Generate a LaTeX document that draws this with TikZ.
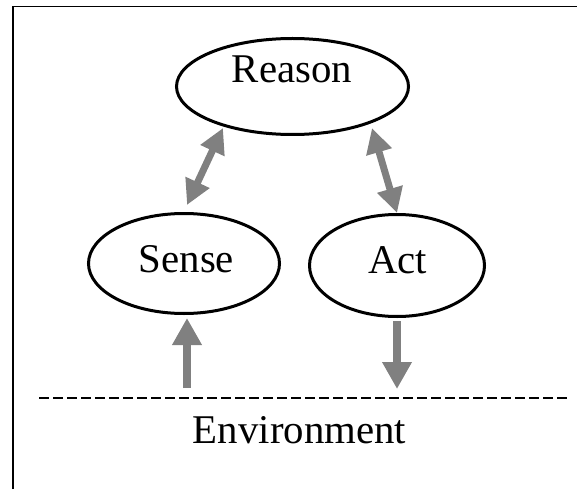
\documentclass[tikz,border=0pt]{standalone}
\usepackage{fontspec}
\setmainfont{Liberation Serif}
\usetikzlibrary{arrows.meta,shapes.geometric}
\tikzset{
  oval/.style={draw=black, line width=3pt, ellipse, inner sep=0pt},
  lbl/.style={anchor=base, inner sep=0pt, font=\fontsize{40.8}{48}\selectfont},
  dbl/.style={draw=gray, line width=7pt, {Triangle[width=25pt,length=25pt]}-{Triangle[width=25pt,length=25pt]}},
  vert/.style={draw=gray, line width=8pt, -{Triangle[width=28pt,length=27pt]}},
}
\begin{document}
\begin{tikzpicture}[x=1pt, y=-1pt]
\useasboundingbox (0,0) rectangle (577,489);
% frame
\draw[line width=1.5pt] (13,489) -- (13,6.5) -- (577,6.5);
% ellipses
\node[oval, minimum width=232pt, minimum height=96pt] (reason) at (292.5,86.5) {};
\node[oval, minimum width=191pt, minimum height=100pt] (sense) at (184,263.5) {};
\node[oval, minimum width=175pt, minimum height=102pt] (act) at (397,265.5) {};
% labels
\node[lbl] (reasontxt) at (292,83) {Reason};
\node[lbl] (sensetxt) at (186.5,272) {Sense};
\node[lbl] (acttxt) at (397.5,273) {Act};
\node[lbl] (envtxt) at (299.5,443) {Environment};
% environment line
\coordinate (envL) at (39,398);
\coordinate (envR) at (568,398);
\draw[line width=1.8pt, dash pattern=on 9.5pt off 4.5pt] (envL) -- (envR);
% arrow end points
\coordinate (reasonL) at ([shift={(-69.5,41.5)}]reason.center);
\coordinate (reasonR) at ([shift={(79.5,41.5)}]reason.center);
\coordinate (senseTop) at ([shift={(3,-58.5)}]sense.center);
\coordinate (senseEnv) at (187,388);
\coordinate (actEnv) at (397,389);
% arrows
\draw[dbl] (reasonL) -- (senseTop);
\draw[dbl] (reasonR) -- (act.north);
\draw[vert, shorten >=3pt] (senseEnv) -- (senseEnv |- sense.south);
\draw[vert, shorten <=3pt] (act.south) -- (actEnv);
\end{tikzpicture}
\end{document}
